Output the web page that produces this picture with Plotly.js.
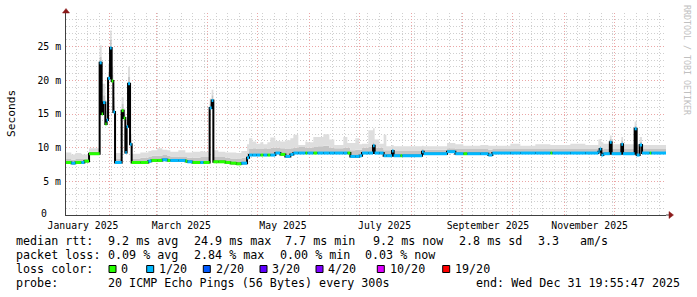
<!DOCTYPE html>
<html><head><meta charset="utf-8">
<script src="https://cdn.plot.ly/plotly-3.0.1.min.js"></script>
<style>html,body{margin:0;padding:0;background:#fff;} #chart{width:697px;height:297px;}</style>
</head><body><div id="chart"></div>
<script>
// ---- data ----
// start of each median step, in days since 2025-01-01 00:00
const dayOfYear = [
 4.83, 8.04, 10.44, 14.04, 15.84, 18.66, 25.02, 26.22, 27.06, 28.44,
 29.22, 30.06, 31.26, 32.22, 33.24, 34.26, 38.22, 39.42, 40.44, 41.22,
 42.06, 43.26, 44.22, 49.44, 54.24, 56.04, 59.64, 62.64, 65.64, 67.44,
 72.24, 76.44, 77.64, 80.64, 85.44, 87.24, 91.02, 92.22, 93.24, 96.24,
 100.44, 103.44, 107.04, 110.04, 113.46, 114.66, 116.64, 119.04, 121.44, 123.24,
 125.64, 127.44, 130.44, 133.44, 136.44, 139.44, 141.24, 144.24, 148.44, 149.64,
 153.24, 155.64, 159.24, 162.84, 165.84, 171.24, 173.64, 175.44, 178.44, 180.84,
 182.46, 186.24, 189.06, 190.02, 192.84, 195.42, 197.04, 200.46, 201.42, 205.44,
 206.64, 218.46, 219.42, 233.46, 238.44, 243.24, 245.64, 253.44, 258.24, 260.64,
 271.44, 277.44, 286.44, 295.44, 296.64, 307.44, 316.44, 324.24, 325.02, 326.04,
 327.24, 331.14, 332.22, 338.04, 339.06, 346.02, 347.22, 349.02, 350.46, 355.02,
 356.04, 364.83];
// median round-trip time, ms
const medianMs = [
 7.8, 7.7, 7.8, 7.8, 8.0, 9.1, 22.6, 15.0, 16.7, 13.5,
 14.1, 20.3, 24.8, 19.9, 15.3, 7.8, 15.5, 14.4, 9.3, 13.1,
 19.5, 10.5, 7.8, 7.8, 8.0, 8.1, 8.1, 8.2, 8.1, 8.1,
 8.1, 8.0, 7.9, 7.8, 7.8, 7.8, 15.9, 17.0, 7.9, 7.9,
 7.8, 7.7, 7.6, 7.7, 8.5, 8.9, 8.9, 8.9, 8.9, 8.9,
 8.9, 8.9, 9.2, 9.0, 8.7, 9.0, 9.2, 9.2, 9.2, 9.2,
 9.2, 9.2, 9.2, 9.2, 9.2, 9.2, 9.2, 8.7, 8.7, 8.8,
 9.2, 9.2, 10.3, 9.2, 9.2, 8.8, 8.8, 9.5, 8.8, 8.8,
 8.8, 9.4, 9.1, 9.4, 9.1, 9.1, 9.1, 9.1, 8.9, 9.2,
 9.2, 9.2, 9.2, 9.2, 9.2, 9.2, 9.2, 9.4, 9.8, 8.9,
 9.1, 10.8, 9.1, 10.5, 9.1, 12.8, 8.9, 10.4, 9.2, 9.2,
 9.2, 9.2];
// lost pings out of 20
const lostPings = [
 0, 1, 0, 1, 0, 0, 1, 0, 1, 0,
 1, 1, 1, 0, 1, 1, 0, 0, 1, 1,
 1, 1, 0, 0, 1, 0, 0, 1, 0, 1,
 1, 0, 1, 0, 1, 0, 1, 1, 0, 0,
 0, 0, 0, 1, 1, 1, 1, 1, 0, 1,
 0, 1, 1, 0, 1, 1, 1, 1, 0, 1,
 0, 1, 1, 1, 1, 1, 0, 1, 1, 1,
 1, 1, 1, 1, 1, 1, 1, 1, 1, 0,
 1, 1, 1, 1, 1, 0, 1, 1, 1, 1,
 1, 1, 1, 0, 1, 1, 1, 1, 1, 1,
 1, 1, 1, 1, 1, 1, 1, 1, 1, 0,
 1, 1];
// upper edge of the dense smoke, ms
const smokeMidMs = [
 8.3, 8.2, 8.3, 8.3, 8.4, 9.4, 23.5, 17.0, 17.8, 14.2,
 15.0, 21.3, 26.0, 20.8, 16.2, 8.4, 16.5, 15.0, 10.0, 13.8,
 20.5, 11.2, 8.4, 8.5, 8.6, 8.8, 8.8, 8.9, 8.8, 8.7,
 8.6, 8.6, 8.5, 8.5, 8.6, 8.6, 16.5, 17.8, 8.6, 8.6,
 8.5, 8.4, 8.3, 8.5, 9.3, 9.8, 9.9, 9.8, 9.8, 9.9,
 9.8, 10.0, 10.0, 9.9, 9.8, 9.9, 10.0, 10.1, 10.0, 10.0,
 10.1, 10.2, 10.3, 10.0, 9.9, 10.0, 10.0, 9.6, 9.7, 9.7,
 10.0, 10.1, 10.8, 10.0, 10.0, 9.6, 9.6, 9.9, 9.5, 9.5,
 9.5, 9.8, 9.7, 9.9, 9.8, 9.8, 9.8, 9.8, 9.7, 9.8,
 9.8, 9.8, 9.8, 9.8, 9.8, 9.8, 9.8, 10.0, 10.3, 9.7,
 9.8, 11.3, 9.8, 11.0, 9.8, 13.3, 9.7, 10.9, 9.8, 9.8,
 9.8, 9.8];
// highest ping of the smoke, ms
const smokeMaxMs = [
 9.3, 9.0, 9.2, 9.0, 9.0, 9.9, 25.2, 19.5, 19.5, 15.5,
 16.5, 22.5, 27.4, 22.0, 17.5, 9.2, 17.5, 15.8, 11.0, 14.6,
 22.0, 12.0, 9.1, 9.3, 9.5, 9.6, 9.9, 9.7, 9.6, 9.4,
 9.6, 9.3, 9.3, 9.4, 9.5, 9.4, 17.3, 18.6, 9.6, 9.4,
 9.3, 9.3, 9.2, 9.5, 10.5, 11.4, 10.9, 10.6, 10.8, 10.5,
 10.8, 11.5, 11.0, 10.9, 11.1, 11.4, 11.9, 10.4, 10.9, 10.8,
 11.6, 11.6, 12.0, 11.2, 10.4, 11.6, 10.7, 10.7, 11.4, 10.5,
 10.6, 12.6, 12.9, 11.2, 10.6, 11.9, 10.2, 10.4, 10.2, 10.2,
 10.2, 10.3, 10.2, 10.7, 10.5, 10.3, 10.3, 10.4, 10.3, 10.3,
 10.6, 10.3, 10.5, 10.4, 10.4, 10.6, 10.4, 11.2, 11.3, 10.8,
 10.6, 11.8, 10.5, 11.6, 10.5, 13.9, 10.4, 11.6, 10.4, 10.4,
 10.4, 10.4];

const lossLevels = [0, 1, 2, 3, 4, 10, 19];
const lossLabels = ['0', '1/20', '2/20', '3/20', '4/20', '10/20', '19/20'];
const lossColors = ['#26ff00', '#00b8ff', '#0059ff', '#5e00ff', '#7e00ff', '#dd00ff', '#ff0000'];

const yTickVals = [0, 5, 10, 15, 20, 25];
const yTickText = ['', '5 m', '10 m', '15 m', '20 m', '25 m'];
const yZeroLabel = '0';
const monthStarts = ['2025-02-01', '2025-03-01', '2025-04-01', '2025-05-01', '2025-06-01', '2025-07-01',
  '2025-08-01', '2025-09-01', '2025-10-01', '2025-11-01', '2025-12-01'];
const monthLabelAt = ['2025-01-16', '2025-03-16', '2025-05-16', '2025-07-16', '2025-09-16', '2025-11-16'];
const monthLabels = ['January 2025', 'March 2025', 'May 2025', 'July 2025', 'September 2025', 'November 2025'];
const xRange = ['2025-01-05 19:55:47', '2025-12-31 19:55:47'];

// legend text chunks
const rttChunks = ['median rtt:', '9.2 ms avg', '24.9 ms max', '7.7 ms min', '9.2 ms now', '2.8 ms sd', '3.3', 'am/s'];
const lossChunks = ['packet loss:', '0.09 % avg', '2.84 % max', '0.00 % min', '0.03 % now'];
const colorTitle = 'loss color:';
const probeChunks = ['probe:', '20 ICMP Echo Pings (56 Bytes) every 300s'];
const endText = 'end: Wed Dec 31 19:55:47 2025';

// ---- layout helpers (pixel positions of text pieces) ----
const rttX = [16, 107.3, 193.3, 285, 372.7, 458.3, 537.3, 579.3];
const lossX = [16, 107.3, 193.3, 279.3, 365];
const probeX = [16, 107.3];
const boxX = [109, 146.7, 203.3, 260, 316, 377.3, 442.7];

const FONT = 'DejaVu Sans Mono, monospace';
const FS = 11.7;      // legend text
const TFS = 9.8;      // tick labels
const W = 697, H = 297, L = 66, R = 31, T = 13, B = 82;
const PW = W - L - R, PH = H - T - B;
const px = x => (x - L) / PW;
const py = y => (H - B - y) / PH;
const nb = s => s.replace(/ /g, '\u00a0');

const toDate = d => new Date(Date.UTC(2025, 0, 1) + Math.round(d * 86400000)).toISOString().slice(0, 19).replace('T', ' ');
const X = dayOfYear.map(toDate);

function levelOf(n) {
  let k = 0;
  lossLevels.forEach((lv, i) => { if (n >= lv) k = i; });
  return k;
}

const traces = [];
traces.push({x: X, y: medianMs, mode: 'lines', line: {width: 0, shape: 'hv'}, hoverinfo: 'skip', showlegend: false});
traces.push({x: X, y: smokeMidMs, mode: 'lines', fill: 'tonexty', fillcolor: '#c4c4c4', line: {width: 0, shape: 'hv'}, hoverinfo: 'skip', showlegend: false});
traces.push({x: X, y: smokeMaxMs, mode: 'lines', fill: 'tonexty', fillcolor: '#dedede', line: {width: 0, shape: 'hv'}, hoverinfo: 'skip', showlegend: false});
traces.push({x: X, y: medianMs, mode: 'lines', line: {color: '#000', width: 2, shape: 'hv'}, hoverinfo: 'skip', showlegend: false});
lossLevels.forEach((lv, k) => {
  const sx = [], sy = [];
  for (let i = 0; i < X.length - 1; i++) {
    if (levelOf(lostPings[i]) === k) {
      sx.push(X[i], X[i + 1], null);
      sy.push(medianMs[i], medianMs[i], null);
    }
  }
  if (sx.length) traces.push({x: sx, y: sy, mode: 'lines', line: {color: lossColors[k], width: 3}, connectgaps: false, hoverinfo: 'skip', showlegend: false});
});
traces.push({x: [X[0]], y: [null], xaxis: 'x2', yaxis: 'y', mode: 'markers', showlegend: false, hoverinfo: 'skip'});

const gridMinor = '#cfcfcf', gridMajor = '#eba6a6', dots = '1px,2px';

const annotations = [];
const txt = (x, y, s, extra) => Object.assign({xref: 'paper', yref: 'paper', x: px(x), y: py(y), text: nb(s), showarrow: false,
  xanchor: 'left', yanchor: 'middle', borderpad: 0, font: {family: FONT, size: FS, color: '#000'}}, extra || {});
annotations.push(txt(11, 114, 'Seconds', {textangle: -90, xanchor: 'center', font: {family: FONT, size: 11.2, color: '#000'}}));
annotations.push(txt(687, 60, 'RRDTOOL / TOBI OETIKER', {textangle: 90, xanchor: 'center', font: {family: FONT, size: 8.3, color: '#c0c0c0'}}));
// zero label of the y axis sits left of the unit column, as in the reference
annotations.push({xref: 'paper', yref: 'y', x: px(48.3), y: 0.15, text: yZeroLabel, showarrow: false, xanchor: 'right', yanchor: 'middle',
  borderpad: 0, font: {family: FONT, size: TFS, color: '#000'}});
rttChunks.forEach((s, i) => annotations.push(txt(rttX[i] - 0.6, 241, s)));
lossChunks.forEach((s, i) => annotations.push(txt(lossX[i] - 0.6, 255, s)));
annotations.push(txt(16 - 0.6, 269, colorTitle));
probeChunks.forEach((s, i) => annotations.push(txt(probeX[i] - 0.6, 283, s)));
annotations.push(txt(680.5, 283, endText, {xanchor: 'right'}));

const shapes = [];
lossLabels.forEach((lab, k) => {
  shapes.push({type: 'rect', xref: 'paper', yref: 'paper', x0: px(boxX[k]), x1: px(boxX[k] + 7), y0: py(272.5), y1: py(265.5),
    fillcolor: lossColors[k], line: {color: '#000', width: 1}});
  annotations.push(txt(boxX[k] + 11.3, 269, lab));
});
// axis arrows
const P = (x, y) => px(x) + ' ' + py(y);
shapes.push({type: 'line', xref: 'paper', yref: 'paper', x0: px(666), x1: px(670), y0: 0, y1: 0, line: {color: '#404040', width: 1}});
shapes.push({type: 'line', xref: 'paper', yref: 'paper', x0: 0, x1: 0, y0: 1, y1: py(10), line: {color: '#404040', width: 1}});
shapes.push({type: 'path', xref: 'paper', yref: 'paper', path: 'M ' + P(669, 211.5) + ' L ' + P(673.5, 215) + ' L ' + P(669, 218.5) + ' Z',
  fillcolor: '#8b1a1a', line: {color: '#8b1a1a', width: 0.5}});
shapes.push({type: 'path', xref: 'paper', yref: 'paper', path: 'M ' + P(62.5, 13) + ' L ' + P(66, 8.5) + ' L ' + P(69.5, 13) + ' Z',
  fillcolor: '#8b1a1a', line: {color: '#8b1a1a', width: 0.5}});

const layout = {
  width: W, height: H,
  margin: {l: L, r: R, t: T, b: B, pad: 0},
  paper_bgcolor: '#fff', plot_bgcolor: '#fff',
  showlegend: false,
  font: {family: FONT, size: FS, color: '#000'},
  xaxis: {
    type: 'date', range: xRange, tickmode: 'array', tickvals: monthStarts, ticktext: monthStarts.map(() => ''),
    showticklabels: false, ticks: '', showgrid: true, gridcolor: gridMajor, griddash: dots, gridwidth: 1,
    minor: {tickmode: 'linear', tick0: '2025-01-05', dtick: 7 * 86400000, showgrid: true, gridcolor: gridMinor, griddash: dots, gridwidth: 1},
    showline: true, linecolor: '#404040', linewidth: 1, zeroline: false, fixedrange: true
  },
  xaxis2: {
    type: 'date', range: xRange, overlaying: 'x', anchor: 'y', side: 'bottom',
    tickmode: 'array', tickvals: monthLabelAt, ticktext: monthLabels, ticks: '',
    showgrid: false, showline: false, zeroline: false, ticklabelstandoff: 3,
    tickfont: {family: FONT, size: TFS, color: '#000'}, fixedrange: true
  },
  yaxis: {
    range: [0, 30], tickmode: 'array', tickvals: yTickVals, ticktext: yTickText, ticks: '',
    showgrid: true, gridcolor: gridMajor, griddash: dots, gridwidth: 1,
    minor: {tickmode: 'linear', tick0: 0, dtick: 1, showgrid: true, gridcolor: gridMinor, griddash: dots, gridwidth: 1},
    showline: true, linecolor: '#404040', linewidth: 1, zeroline: false, ticklabelstandoff: 2,
    tickfont: {family: FONT, size: TFS, color: '#000'}, fixedrange: true
  },
  annotations: annotations,
  shapes: shapes
};

Plotly.newPlot('chart', traces, layout, {staticPlot: true, displayModeBar: false});
</script>
</body></html>
